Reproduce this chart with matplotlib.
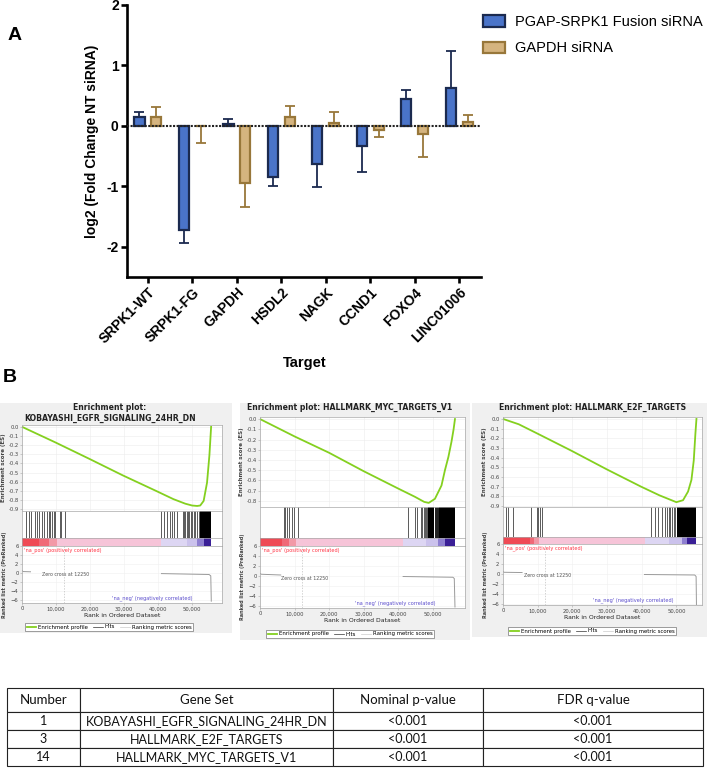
import numpy as np
import matplotlib
matplotlib.use("Agg")
import matplotlib.pyplot as plt
from matplotlib.patches import Rectangle, Patch
from matplotlib.lines import Line2D
from matplotlib.colors import LinearSegmentedColormap, Normalize

# ---------------- Panel A data ----------------
targets = ['SRPK1-WT', 'SRPK1-FG', 'GAPDH', 'HSDL2', 'NAGK', 'CCND1', 'FOXO4', 'LINC01006']
fusion_vals = [0.14, -1.72, 0.03, -0.84, -0.63, -0.34, 0.45, 0.63]
fusion_err = [0.09, 0.22, 0.09, 0.15, 0.38, 0.42, 0.14, 0.61]
gapdh_vals = [0.14, -0.01, -0.95, 0.14, 0.05, -0.07, -0.13, 0.06]
gapdh_err = [0.18, 0.28, 0.39, 0.19, 0.18, 0.11, 0.39, 0.12]
series_labels = ['PGAP-SRPK1 Fusion siRNA', 'GAPDH siRNA']

# ---------------- Panel B data (GSEA) ----------------
gsea_titles = ['Enrichment plot:\nKOBAYASHI_EGFR_SIGNALING_24HR_DN',
               'Enrichment plot: HALLMARK_MYC_TARGETS_V1',
               'Enrichment plot: HALLMARK_E2F_TARGETS']

es1_rank = [0, 9800, 19800, 29600, 39400, 44500, 48000, 50000, 51500, 52400, 53400, 54400, 55100, 55600]
es1_val = [0, -0.17, -0.35, -0.53, -0.70, -0.79, -0.84, -0.86, -0.865, -0.86, -0.81, -0.61, -0.31, 0.0]
es2_rank = [0, 10000, 20000, 30000, 40000, 44800, 47500, 48800, 50600, 52500, 53500, 54500, 55400, 56000, 56400]
es2_val = [0, -0.17, -0.33, -0.51, -0.68, -0.76, -0.81, -0.82, -0.78, -0.65, -0.50, -0.37, -0.22, -0.10, 0.0]
es3_rank = [0, 4540, 9860, 19820, 29880, 39840, 45160, 50000, 51930, 53380, 54350, 55020, 55500, 55800]
es3_val = [0, -0.055, -0.15, -0.33, -0.52, -0.70, -0.79, -0.86, -0.84, -0.75, -0.63, -0.43, -0.15, 0.0]

hits1 = [1270, 1960, 2650, 3720, 4410, 5100, 5880, 6370, 7450, 8040, 8330, 8820, 9310, 9600,
         11070, 11470, 12740, 40960, 41650, 42630, 43410, 44100, 44790, 45570, 47240, 47530,
         48020, 48510, 48800, 49200, 49690, 49980, 50470, 50960, 51450, 51940]
dense1 = [(52230, 55700)]
hits2 = [7060, 7350, 7740, 8320, 9190, 9770, 10930, 42840, 44780, 45550, 46520, 46900, 47300,
         47680, 48070, 48450, 50550, 50700, 50850, 51000, 51150, 51300, 51450, 51600]
dense2 = [(48650, 50450), (51700, 56400)]
hits3 = [870, 1450, 2900, 8220, 9670, 10060, 10730, 11120, 42740, 43900, 44680, 45930, 46610,
         47290, 47870, 48250, 48740, 49220, 49700]
dense3 = [(50190, 55800)]

bar1_bounds = [0, 4900, 7800, 10300, 41000, 48500, 51500, 53500, 55700]
bar2_bounds = [0, 6500, 8500, 10500, 41400, 48000, 51500, 53500, 56400]
bar3_bounds = [0, 7800, 9000, 10300, 41000, 48000, 51500, 53000, 55800]
bar_levels = [1.0, 0.8, 0.55, 0.3, -0.3, -0.45, -0.7, -1.0]

m1_rank = [0, 300, 2500, np.nan, 41000, 55000, 55500, 55650]
m1_val = [0.6, 0.35, 0.3, np.nan, -0.1, -0.3, -0.6, -6.2]
m2_rank = [0, 400, 6000, np.nan, 41400, 55800, 56200, 56400]
m2_val = [0.5, 0.35, 0.2, np.nan, -0.1, -0.25, -0.5, -6.2]
m3_rank = [0, 300, 5500, np.nan, 40800, 55300, 55700, 55800]
m3_val = [0.5, 0.35, 0.3, np.nan, -0.1, -0.2, -0.5, -6.2]
zero_cross = 12250
rank_ticks = [0, 10000, 20000, 30000, 40000, 50000]
rank_tick_labels = ['0', '10,000', '20,000', '30,000', '40,000', '50,000']

# ---------------- Table data ----------------
table_header = ['Number', 'Gene Set', 'Nominal p-value', 'FDR q-value']
table_numbers = ['1', '3', '14']
table_genesets = ['KOBAYASHI_EGFR_SIGNALING_24HR_DN', 'HALLMARK_E2F_TARGETS', 'HALLMARK_MYC_TARGETS_V1']
table_pvals = ['<0.001', '<0.001', '<0.001']
table_qvals = ['<0.001', '<0.001', '<0.001']

# ---------------- figure ----------------
W, H = 707, 778
fig = plt.figure(figsize=(W / 100, H / 100), dpi=100)


def rect(x0, y0, x1, y1):
    return [x0 / W, 1 - y1 / H, (x1 - x0) / W, (y1 - y0) / H]


def fx(x):
    return x / W


def fy(y):
    return 1 - y / H


ARIAL = 'Liberation Sans'

# ================= Panel A =================
ax = fig.add_axes(rect(127, 5, 481, 277))
x = np.arange(len(targets))
off, bw = 0.19, 0.23
blue_fc, blue_ec = '#4a74c9', '#1b2a4f'
tan_fc, tan_ec = '#d5b47f', '#98773a'

ax.bar(x - off, fusion_vals, bw, color=blue_fc, edgecolor=blue_ec, linewidth=1.6, zorder=3)
ax.bar(x + off, gapdh_vals, bw, color=tan_fc, edgecolor=tan_ec, linewidth=1.6, zorder=3)


def one_sided(vals, errs):
    lo = [e if v < 0 else 0 for v, e in zip(vals, errs)]
    hi = [e if v >= 0 else 0 for v, e in zip(vals, errs)]
    return [lo, hi]


ax.errorbar(x - off, fusion_vals, yerr=one_sided(fusion_vals, fusion_err), fmt='none',
            ecolor=blue_ec, elinewidth=1.3, capsize=3.5, capthick=1.3, zorder=2)
ax.errorbar(x + off, gapdh_vals, yerr=one_sided(gapdh_vals, gapdh_err), fmt='none',
            ecolor=tan_ec, elinewidth=1.3, capsize=3.5, capthick=1.3, zorder=2)
ax.axhline(0, color='#222222', lw=1.5, ls=(0, (1.0, 0.7)), zorder=4)

ax.set_xlim(-0.47, 7.49)
ax.set_ylim(-2.5, 2)
for s in ['top', 'right']:
    ax.spines[s].set_visible(False)
for s in ['left', 'bottom']:
    ax.spines[s].set_linewidth(1.9)
ax.set_yticks([-2, -1, 0, 1, 2])
ax.set_yticklabels(['-2', '-1', '0', '1', '2'], fontfamily=ARIAL, fontweight='bold', fontsize=10)
ax.set_xticks(x)
ax.set_xticklabels(targets, rotation=45, ha='right', rotation_mode='anchor',
                   fontfamily=ARIAL, fontweight='bold', fontsize=10)
ax.tick_params(width=1.9, length=4.5, pad=1.5)

handles = [Patch(facecolor=blue_fc, edgecolor=blue_ec, linewidth=1.6),
           Patch(facecolor=tan_fc, edgecolor=tan_ec, linewidth=1.6)]
ax.legend(handles, series_labels, loc='upper left', bbox_to_anchor=(fx(483), fy(15)),
          bbox_transform=fig.transFigure, frameon=False, prop={'family': ARIAL, 'size': 10.5},
          handlelength=1.5, handleheight=0.8, labelspacing=0.85, borderaxespad=0, borderpad=0,
          handletextpad=0.7)

fig.text(fx(92), fy(141), 'log2 (Fold Change NT siRNA)', rotation=90, ha='center', va='center',
         fontfamily=ARIAL, fontweight='bold', fontsize=10)
fig.text(fx(305), fy(363), 'Target', ha='center', va='center', fontfamily=ARIAL,
         fontweight='bold', fontsize=10.5)
fig.text(fx(8), fy(35), 'A', ha='left', va='center', fontfamily=ARIAL, fontweight='bold', fontsize=14)
fig.text(fx(3), fy(378), 'B', ha='left', va='center', fontfamily=ARIAL, fontweight='bold', fontsize=14)

# ================= Panel B =================
cmap = LinearSegmentedColormap.from_list('gsea', [
    (0.0, '#3a1f96'), (0.15, '#8f80d0'), (0.275, '#cbc2ec'), (0.35, '#ddd6f3'), (0.5, '#f0e6f0'),
    (0.65, '#f6c4d8'), (0.775, '#f29aa8'), (0.9, '#f06a78'), (1.0, '#ef4a55')])
norm = Normalize(-1, 1)

SP = '#a8a8a8'
GREEN = '#84d01f'
panels = [
    dict(bg=(0, 403, 232, 633), title=gsea_titles[0], tpos=(110, 413),
         es=(22, 425, 222, 511), hits=(22, 511, 222, 538), bar=(22, 538, 222, 546), met=(22, 546, 222, 603),
         xmax=58800, esy=(-0.92, 0.02), my=(-6.6, 6.0), leg=(109, 627),
         es_r=es1_rank, es_v=es1_val, hits_r=hits1, dense=dense1, bb=bar1_bounds,
         m_r=m1_rank, m_v=m1_val, esticks=np.round(np.arange(0, -0.95, -0.1), 1)),
    dict(bg=(240, 403, 470, 640), title=gsea_titles[1], tpos=(350, 407),
         es=(260, 417, 465, 507), hits=(260, 507, 465, 538), bar=(260, 538, 465, 546), met=(260, 546, 465, 608),
         xmax=59300, esy=(-0.86, 0.02), my=(-6.4, 6.0), leg=(350, 634),
         es_r=es2_rank, es_v=es2_val, hits_r=hits2, dense=dense2, bb=bar2_bounds,
         m_r=m2_rank, m_v=m2_val, esticks=np.round(np.arange(0, -0.85, -0.1), 1)),
    dict(bg=(472, 403, 707, 637), title=gsea_titles[2], tpos=(593, 407),
         es=(503, 417, 702, 507), hits=(503, 507, 702, 537), bar=(503, 537, 702, 544), met=(503, 544, 702, 605),
         xmax=57400, esy=(-0.91, 0.02), my=(-6.3, 6.1), leg=(592, 631),
         es_r=es3_rank, es_v=es3_val, hits_r=hits3, dense=dense3, bb=bar3_bounds,
         m_r=m3_rank, m_v=m3_val, esticks=np.round(np.arange(0, -0.95, -0.1), 1)),
]


def style(a):
    for s in a.spines.values():
        s.set_color(SP)
        s.set_linewidth(0.5)
    a.tick_params(length=1.5, width=0.4, color=SP, labelsize=3.8, labelcolor='#444444', pad=1)


for p in panels:
    x0, y0, x1, y1 = p['bg']
    fig.patches.append(Rectangle((fx(x0), fy(y1)), (x1 - x0) / W, (y1 - y0) / H,
                                 transform=fig.transFigure, facecolor='#f0f0f0', edgecolor='none', zorder=-5))
    fig.text(fx(p['tpos'][0]), fy(p['tpos'][1]), p['title'], ha='center', va='center',
             fontsize=5.6, fontweight='bold', color='#222222', linespacing=1.3)

    # ES
    a = fig.add_axes(rect(*p['es']))
    a.set_zorder(2)
    a.plot(p['es_r'], p['es_v'], color=GREEN, lw=1.3)
    a.set_xlim(0, p['xmax'])
    a.set_ylim(*p['esy'])
    a.set_yticks(p['esticks'])
    a.set_yticklabels(['%.1f' % v if v != 0 else '0.0' for v in p['esticks']])
    a.set_xticks(rank_ticks)
    a.set_xticklabels([])
    a.grid(True, color='#ececec', lw=0.4)
    a.set_axisbelow(True)
    style(a)
    a.tick_params(axis='x', length=0)
    a.set_ylabel('Enrichment score (ES)', fontsize=4.0, fontweight='bold', color='#444444', labelpad=1.5)

    # Hits
    a = fig.add_axes(rect(*p['hits']))
    a.set_zorder(2)
    a.vlines(p['hits_r'], 0, 1, color='black', lw=0.45)
    for s0, s1 in p['dense']:
        a.axvspan(s0, s1, color='black', lw=0)
    a.set_xlim(0, p['xmax'])
    a.set_ylim(0, 1)
    a.set_xticks([])
    a.set_yticks([])
    style(a)

    # Rank colour bar
    a = fig.add_axes(rect(*p['bar']))
    a.set_zorder(2)
    bb = p['bb']
    for i, lev in enumerate(bar_levels):
        a.axvspan(bb[i], bb[i + 1], color=cmap(norm(lev)), lw=0)
    a.set_xlim(0, p['xmax'])
    a.set_ylim(0, 1)
    a.set_xticks([])
    a.set_yticks([])
    style(a)

    # Ranked list metric
    a = fig.add_axes(rect(*p['met']))
    a.set_zorder(2)
    a.plot(p['m_r'], p['m_v'], color='#9a9a9a', lw=0.7)
    a.axvline(zero_cross, color='#c0c0c0', lw=0.5, ls=(0, (2, 2)))
    a.set_xlim(0, p['xmax'])
    a.set_ylim(*p['my'])
    a.set_yticks([-6, -4, -2, 0, 2, 4, 6])
    a.set_xticks(rank_ticks)
    a.set_xticklabels(rank_tick_labels)
    a.grid(True, color='#f0f0f0', lw=0.4)
    a.set_axisbelow(True)
    style(a)
    a.text(600, p['my'][1] - 0.3, "'na_pos' (positively correlated)", color='#ff3344', fontsize=3.6,
           ha='left', va='top')
    a.text(p['xmax'] * 0.855, p['my'][0] + 0.5, "'na_neg' (negatively correlated)", color='#5a4ccc',
           fontsize=3.6, ha='right', va='bottom')
    a.text(6000, -0.4, 'Zero cross at 12250', color='#555555', fontsize=3.4, ha='left', va='center')
    a.set_ylabel('Ranked list metric (PreRanked)', fontsize=3.5, fontweight='bold', color='#444444',
                 labelpad=2.5)
    a.set_xlabel('Rank in Ordered Dataset', fontsize=4.4, color='#222222', labelpad=1)

    lh = [Line2D([], [], color=GREEN, lw=1.3), Line2D([], [], color='#333333', lw=0.5),
          Line2D([], [], color='#cccccc', lw=0.5)]
    leg = fig.legend(lh, ['Enrichment profile', 'Hits', 'Ranking metric scores'], loc='center',
                     bbox_to_anchor=(fx(p['leg'][0]), fy(p['leg'][1])), bbox_transform=fig.transFigure,
                     ncol=3, fontsize=3.9, frameon=True, fancybox=False, edgecolor='#777777',
                     framealpha=1, handlelength=1.8, columnspacing=0.9, borderpad=0.3,
                     handletextpad=0.35)
    leg.get_frame().set_linewidth(0.5)

# ================= Table =================
tax = fig.add_axes(rect(7, 688, 703, 766))
tax.axis('off')
cell_text = [[n, g, pv, qv] for n, g, pv, qv in zip(table_numbers, table_genesets, table_pvals, table_qvals)]
colw = np.array([73, 253, 150, 220], dtype=float)
tbl = tax.table(cellText=cell_text, colLabels=table_header, colWidths=list(colw / colw.sum()),
                cellLoc='center', bbox=[0, 0, 1, 1])
tbl.auto_set_font_size(False)
tbl.set_fontsize(9)
for (r, c), cell in tbl.get_celld().items():
    cell.set_height(24 if r == 0 else 18)
    cell.set_linewidth(0.8)
    cell.set_edgecolor('#222222')
    cell.get_text().set_fontfamily('Lato')
    cell.get_text().set_color('#111111')
    if r == 0:
        cell.get_text().set_fontsize(9.5)

fig.savefig('out.png', dpi=100)
